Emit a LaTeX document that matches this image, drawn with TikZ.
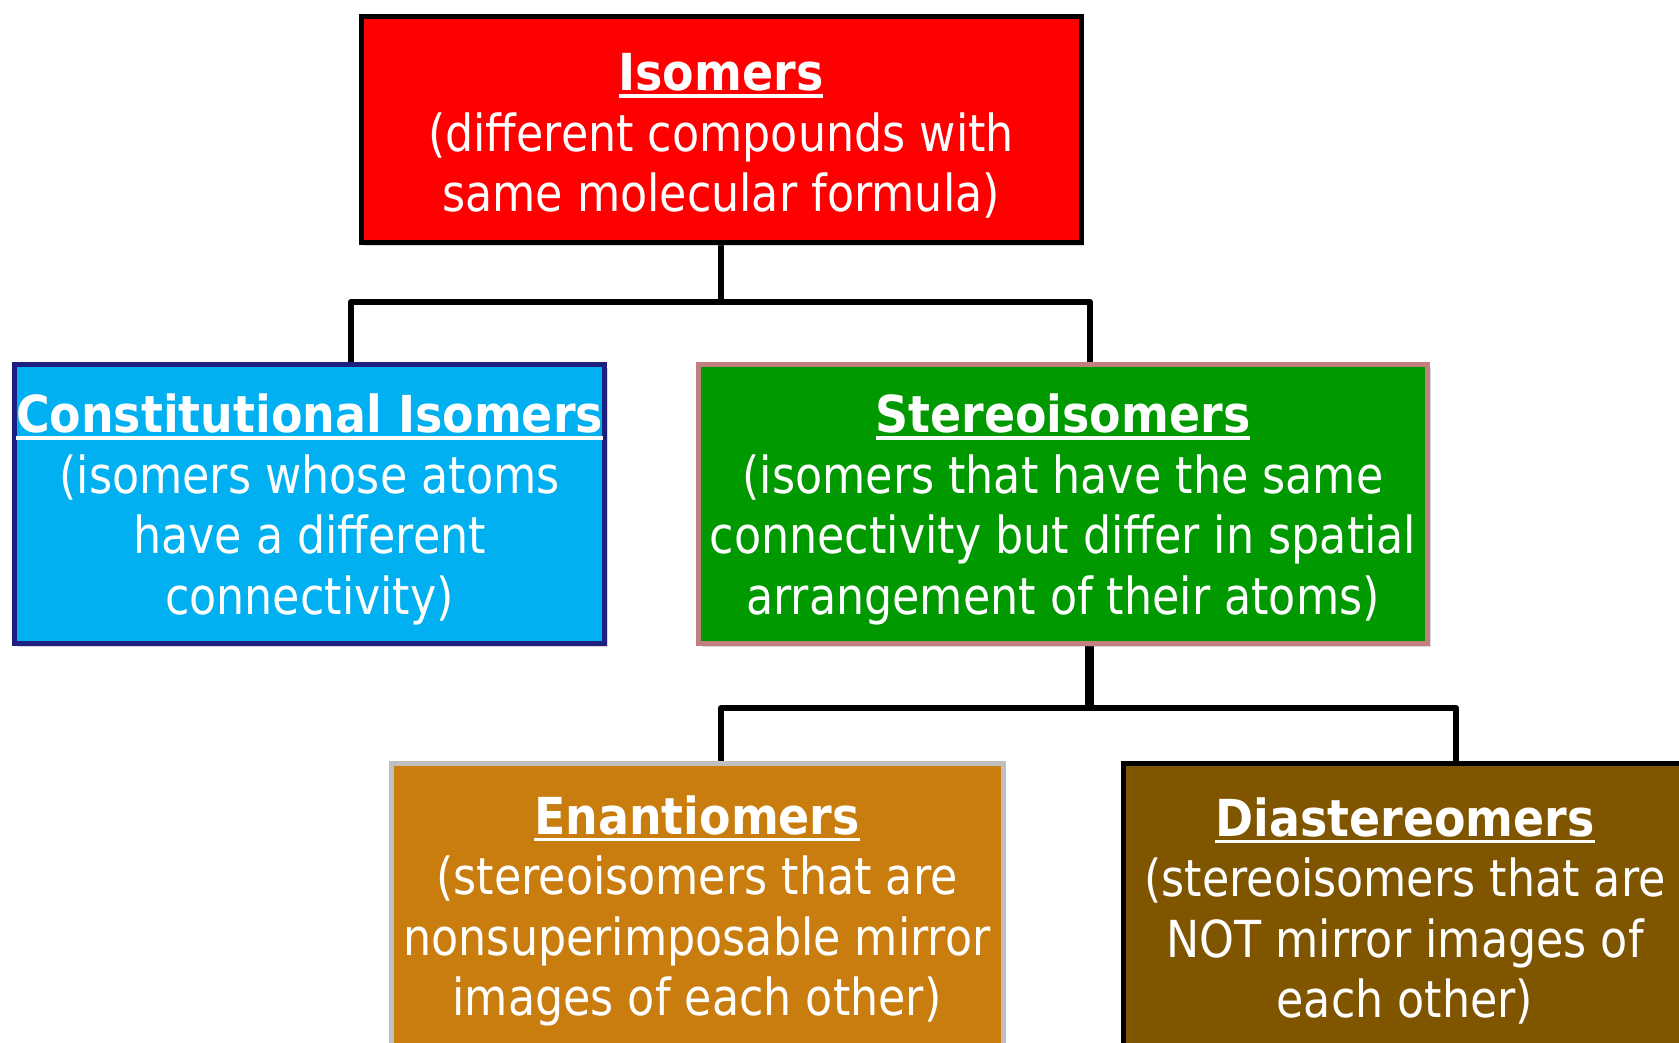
\documentclass[tikz,border=0pt]{standalone}
\usepackage{fontspec}
\setmainfont{DejaVu Sans}[FakeStretch=0.87]
\usetikzlibrary{shadows,backgrounds}
\definecolor{cRed}{HTML}{FF0000}
\definecolor{cBlue}{HTML}{00B0F0}
\definecolor{cNavy}{HTML}{1F1F80}
\definecolor{cGreen}{HTML}{009900}
\definecolor{cRose}{HTML}{C08080}
\definecolor{cOrange}{HTML}{C97D0E}
\definecolor{cGrayB}{HTML}{BFBFBF}
\definecolor{cBrown}{HTML}{7F5500}
\newcommand\hd[1]{\rule{0pt}{50pt}\setbox0\hbox{\bfseries\addfontfeatures{FakeStretch=0.9}#1}\rlap{\rule[-7pt]{\wd0}{3.5pt}}\box0}
\begin{document}
\begin{tikzpicture}[x=1pt,y=-1pt,
  box/.style={rectangle, line width=5pt, text=white, align=center,
    font=\fontsize{51}{60.5}\selectfont, inner sep=0pt,
    drop shadow={opacity=0.3, shadow xshift=3pt, shadow yshift=-3pt}},
  conn/.style={line width=6pt, line join=round, draw=black}]
\clip (0,0) rectangle (1679,1042);
\node[box, fill=cRed, draw=black, minimum width=720pt, minimum height=226pt] (iso) at (721,129.5)
  {\hd{Isomers}\\(different compounds with\\same molecular formula)};
\node[box, fill=cBlue, draw=cNavy, minimum width=590pt, minimum height=279pt] (con) at (309.5,504)
  {\hd{Constitutional Isomers}\\(isomers whose atoms\\have a different\\connectivity)};
\node[box, fill=cGreen, draw=cRose, minimum width=729pt, minimum height=279pt] (ste) at (1063,504)
  {\hd{Stereoisomers}\\(isomers that have the same\\connectivity but differ in spatial\\arrangement of their atoms)};
\node[box, fill=cOrange, draw=cGrayB, minimum width=612pt, minimum height=284pt] (ena) at (697,905.5)
  {\hd{Enantiomers}\\(stereoisomers that are\\nonsuperimposable mirror\\images of each other)};
\node[box, fill=cBrown, draw=black, minimum width=563pt, minimum height=284pt] (dia) at (1405,905.5)
  {\hd{Diastereomers}\\(stereoisomers that are\\NOT mirror images of\\each other)};
\coordinate (j1) at (721,302);
\coordinate (j2) at (1089,708);
\begin{scope}[on background layer]
\draw[conn] (iso.south -| j1) -- (j1);
\draw[conn] (j1) -| ([xshift=41.5pt]con.north);
\draw[conn] (j1) -| ([xshift=27pt]ste.north);
\draw[conn, line width=9pt] (ste.south -| j2) -- (j2);
\draw[conn] (j2) -| ([xshift=24pt]ena.north);
\draw[conn] (j2) -| ([xshift=51pt]dia.north);
\end{scope}
\end{tikzpicture}
\end{document}
